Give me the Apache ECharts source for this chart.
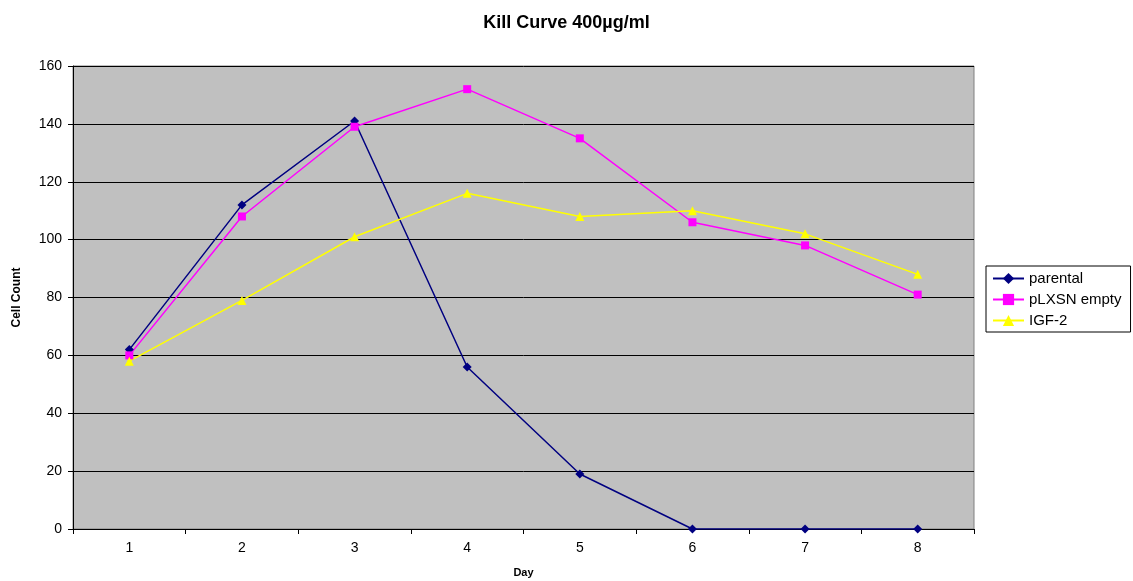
<!DOCTYPE html>
<html>
<head>
<meta charset="utf-8">
<script src="https://cdn.jsdelivr.net/npm/echarts@6/dist/echarts.min.js"></script>
<style>html,body{margin:0;padding:0;background:#fff}#c{width:1133px;height:581px}</style>
</head>
<body>
<div id="c"></div>
<script>
const days = ['1','2','3','4','5','6','7','8'];
const parental = [62, 112, 141, 56, 19, 0, 0, 0];
const pLXSN = [60, 108, 139, 152, 135, 106, 98, 81];
const igf2 = [58, 79, 101, 116, 108, 110, 102, 88];

const chart = echarts.init(document.getElementById('c'));
const font = 'Liberation Sans, Arial, sans-serif';
chart.setOption({
  backgroundColor: '#ffffff',
  animation: false,
  textStyle: { fontFamily: font },
  title: {
    text: 'Kill Curve 400µg/ml',
    left: 'center',
    top: 9,
    textStyle: { fontFamily: font, fontSize: 18, fontWeight: 'bold', color: '#000' }
  },
  grid: {
    left: 73, right: 159, top: 66, bottom: 52,
    outerBoundsMode: 'none',
    containLabel: false,
    show: true, backgroundColor: '#C0C0C0', borderColor: '#808080', borderWidth: 1
  },
  legend: {
    orient: 'vertical',
    left: 986, top: 266,
    borderColor: '#000', borderWidth: 1,
    padding: [5, 9, 4, 6],
    itemGap: 6,
    itemWidth: 31, itemHeight: 14,
    textStyle: { fontFamily: font, fontSize: 15, lineHeight: 14, color: '#000' },
    data: ['parental', 'pLXSN empty', 'IGF-2']
  },
  xAxis: {
    type: 'category',
    data: days,
    boundaryGap: true,
    name: 'Day',
    nameLocation: 'middle',
    nameGap: 38,
    nameTextStyle: { fontFamily: font, fontSize: 11, fontWeight: 'bold', color: '#000' },
    axisLine: { lineStyle: { color: '#000', width: 1 } },
    axisTick: { show: true, length: 5, lineStyle: { color: '#000' } },
    axisLabel: { fontFamily: font, fontSize: 14, color: '#000', margin: 12 },
    splitLine: { show: false }
  },
  yAxis: {
    type: 'value',
    min: 0, max: 160, interval: 20,
    name: 'Cell Count',
    nameLocation: 'middle',
    nameGap: 50,
    nameRotate: 90,
    nameTextStyle: { fontFamily: font, fontSize: 12, fontWeight: 'bold', color: '#000' },
    axisLine: { show: true, lineStyle: { color: '#000', width: 1 } },
    axisTick: { show: true, length: 5, lineStyle: { color: '#000' } },
    axisLabel: { fontFamily: font, fontSize: 14, color: '#000', margin: 11 },
    splitLine: { show: true, lineStyle: { color: '#000', width: 1 } }
  },
  series: [
    {
      name: 'parental', type: 'line', data: parental,
      symbol: 'diamond', symbolSize: 9,
      lineStyle: { color: '#000080', width: 1.5 },
      itemStyle: { color: '#000080' }
    },
    {
      name: 'pLXSN empty', type: 'line', data: pLXSN,
      symbol: 'rect', symbolSize: 8,
      lineStyle: { color: '#FF00FF', width: 1.5 },
      itemStyle: { color: '#FF00FF' }
    },
    {
      name: 'IGF-2', type: 'line', data: igf2,
      symbol: 'triangle', symbolSize: 9,
      lineStyle: { color: '#FFFF00', width: 1.5 },
      itemStyle: { color: '#FFFF00' }
    }
  ]
});
</script>
</body>
</html>
